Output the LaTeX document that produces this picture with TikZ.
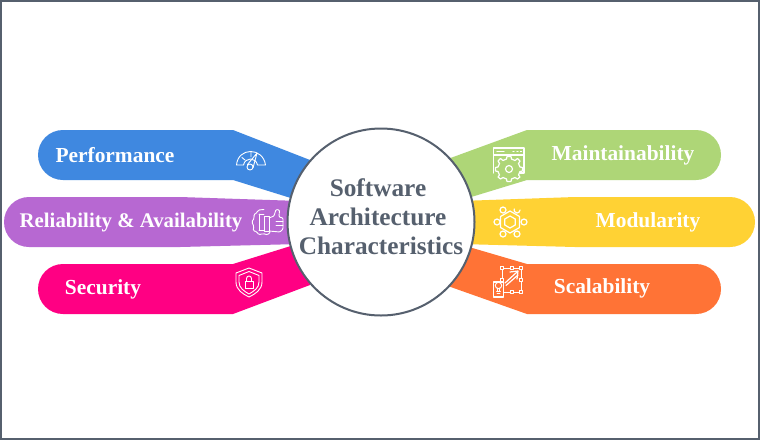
\documentclass[tikz,border=0pt]{standalone}
\usepackage{fontspec}
\setmainfont{Liberation Serif}
\usetikzlibrary{positioning}
\definecolor{framegray}{HTML}{56606E}
\definecolor{perfblue}{HTML}{3F88E0}
\definecolor{relpurple}{HTML}{B768D2}
\definecolor{secpink}{HTML}{FF0083}
\definecolor{maingreen}{HTML}{AED677}
\definecolor{modyellow}{HTML}{FFD234}
\definecolor{scalorange}{HTML}{FF7336}
\tikzstyle{arm}=[draw=none]
\tikzstyle{label}=[text=white,font=\fontsize{21.4}{23}\selectfont\bfseries,inner sep=0pt,anchor=base]
\tikzstyle{hub}=[text=framegray,font=\fontsize{25.3}{29}\selectfont\bfseries,inner sep=0pt,anchor=base]
\tikzstyle{icon}=[draw=white,line width=0.9pt,line join=round,line cap=round]
\begin{document}
\begin{tikzpicture}[x=1pt,y=1pt]
\useasboundingbox (0,0) rectangle (760,-440);
\fill[white] (0,0) rectangle (760,-440);
\draw[framegray,line width=2pt] (1,-1) rectangle (759,-439);
% left arms
\fill[arm,perfblue] (310,-160) -- (233,-130) -- (63,-130) to[out=180,in=90] (38,-155) to[out=-90,in=180] (63,-180) -- (233,-180) -- (310,-204) -- cycle;
\fill[arm,relpurple] (300,-201) -- (180,-197) -- (29,-197) to[out=180,in=90] (4,-222) to[out=-90,in=180] (29,-247) -- (180,-247) -- (300,-244) -- cycle;
\fill[arm,secpink] (310,-240) -- (233,-264) -- (63,-264) to[out=180,in=90] (38,-289) to[out=-90,in=180] (63,-314) -- (233,-314) -- (310,-285) -- cycle;
% right arms
\fill[arm,maingreen] (445,-160) -- (527,-130) -- (696,-130) to[out=0,in=90] (721,-155) to[out=-90,in=0] (696,-180) -- (527,-180) -- (445,-205) -- cycle;
\fill[arm,modyellow] (460,-201) -- (575,-197) -- (730,-197) to[out=0,in=90] (755,-222) to[out=-90,in=0] (730,-247) -- (575,-247) -- (460,-244) -- cycle;
\fill[arm,scalorange] (445,-240) -- (527,-264) -- (696,-264) to[out=0,in=90] (721,-289) to[out=-90,in=0] (696,-314) -- (527,-314) -- (445,-285) -- cycle;
% centre
\node[circle,draw=framegray,fill=white,line width=2pt,minimum size=187pt,inner sep=0pt] (hub) at (381,-222) {};
\node[hub] (software) at (378,-196) {Software};
\node[hub] (architecture) at (378,-225) {Architecture};
\node[hub] (characteristics) at (381,-254) {Characteristics};
% labels
\node[label] (performance) at (115,-162.5) {Performance};
\node[label,font=\fontsize{20.8}{23}\selectfont\bfseries] (reliability) at (131,-227) {Reliability \& Availability};
\node[label] (security) at (103,-294) {Security};
\node[label] (maintainability) at (623,-160.5) {Maintainability};
\node[label] (modularity) at (648,-227) {Modularity};
\node[label] (scalability) at (602,-293) {Scalability};
% gauge
\draw[icon] (236.5,-165) .. controls (238,-147) and (263,-147) .. (265.5,-165) -- (257.5,-165) .. controls (256,-157) and (245,-157) .. (243.5,-165) -- cycle;
\draw[icon] (242,-157.5) -- (245,-160) (251,-152) -- (251,-157);
\draw[icon] (250,-167) circle (3);
\draw[icon] (247.5,-164.5) -- (257,-153) -- (253,-168);
% thumb
\draw[icon,rounded corners=1.5pt] (264,-209.5) -- (258,-210) -- (257,-213) -- (253.5,-214.5) -- (254.5,-218) -- (251.5,-222) -- (254,-226) -- (253,-231) -- (257,-231.5) -- (258.5,-235) -- (263,-233.5) -- (268,-235) -- (270,-232);
\draw[icon] (259,-214) -- (259,-230) (259,-214) -- (264,-214) (259,-230) -- (264,-230);
\draw[icon] (264,-216) rectangle (269,-231);
\draw[icon,rounded corners=1pt] (269,-218) -- (274,-216) -- (276,-209.5) -- (279.5,-210) -- (279,-217) -- (283,-218) -- (283,-229) -- (280,-232) -- (269,-231);
\draw[icon] (276,-221) -- (283,-221) (276,-225) -- (283,-225);
% shield
\draw[icon] (249,-268) -- (262,-273) -- (262,-282) .. controls (262,-290) and (255,-294) .. (249,-297) .. controls (243,-294) and (236,-290) .. (236,-282) -- (236,-273) -- cycle;
\draw[icon] (249,-271.5) -- (259,-275.5) -- (259,-282) .. controls (259,-288) and (254,-291) .. (249,-294) .. controls (244,-291) and (239,-288) .. (239,-282) -- (239,-275.5) -- cycle;
\draw[icon] (245,-281) rectangle (253,-288);
\draw[icon] (246.5,-281) -- (246.5,-278.5) arc (180:0:2.5) -- (251.5,-281);
% window and gear
\draw[icon,line width=1.2pt] (493.5,-173) -- (493.5,-148) -- (524,-148) -- (524,-173) -- (520,-173);
\draw[icon,line width=1.2pt] (493.5,-155) -- (524,-155);
\draw[icon,line width=1.2pt] (497,-151.5) -- (504,-151.5) (513,-151.5) -- (514,-151.5) (517,-151.5) -- (518,-151.5) (520.5,-151.5) -- (521.5,-151.5);
\draw[icon,line width=1.2pt,fill=maingreen] (507,-156.5) -- (511,-156.5) -- (511.5,-159) -- (515,-160.5) -- (517.5,-158.5) -- (520,-161) -- (518.5,-163.5) -- (520,-167) -- (522.5,-167.5) -- (522.5,-171) -- (520,-171.5) -- (518.5,-175) -- (520,-177) -- (517.5,-179) -- (515,-177.5) -- (511.5,-179) -- (511,-181.5) -- (507,-181.5) -- (506.5,-179) -- (503,-177.5) -- (500.5,-179) -- (498,-177) -- (499.5,-175) -- (498,-171.5) -- (495.5,-171) -- (495.5,-167.5) -- (498,-167) -- (499.5,-163.5) -- (498,-161) -- (500.5,-158.5) -- (503,-160.5) -- (506.5,-159) -- cycle;
\draw[icon,line width=1.2pt] (509,-169) circle (3.5);
% hexagon
\draw[icon,line width=1.2pt] (510,-211) -- (519.5,-216.5) -- (519.5,-227.5) -- (510,-233) -- (500.5,-227.5) -- (500.5,-216.5) -- cycle;
\draw[icon,line width=1.2pt] (510,-216) -- (515.2,-219) -- (515.2,-225) -- (510,-228) -- (504.8,-225) -- (504.8,-219) -- cycle;
\foreach \px/\py in {497/222,524/222,503/210,503/234,517/234}
  \draw[icon,line width=1.2pt,fill=modyellow] (\px,-\py) circle (3);
\draw[icon,line width=1.2pt] (520,-210) arc (0:-200:3);
% scaling
\draw[icon] (502,-268) rectangle (521,-292);
\foreach \px/\py in {502/268,511.5/268,521/268,521/280,521/292,511.5/292,502/280}
  \draw[icon,fill=scalorange] (\px-1.5,-\py-1.5) rectangle (\px+1.5,-\py+1.5);
\draw[icon,line width=1.2pt] (505,-283) -- (517,-272) (510,-272) -- (518,-271) -- (517,-279);
\draw[icon,line width=1.2pt] (506,-285.5) -- (518,-275);
\draw[icon,line width=1.2pt,fill=scalorange] (493.5,-282) rectangle (503.5,-297);
\draw[icon] (498.5,-285.5) circle (3.2);
\draw[icon] (496.5,-291) -- (500.5,-291) (497,-293.5) -- (500,-293.5) (497.5,-288) -- (497.5,-291) (499.5,-288) -- (499.5,-291);
\end{tikzpicture}
\end{document}
